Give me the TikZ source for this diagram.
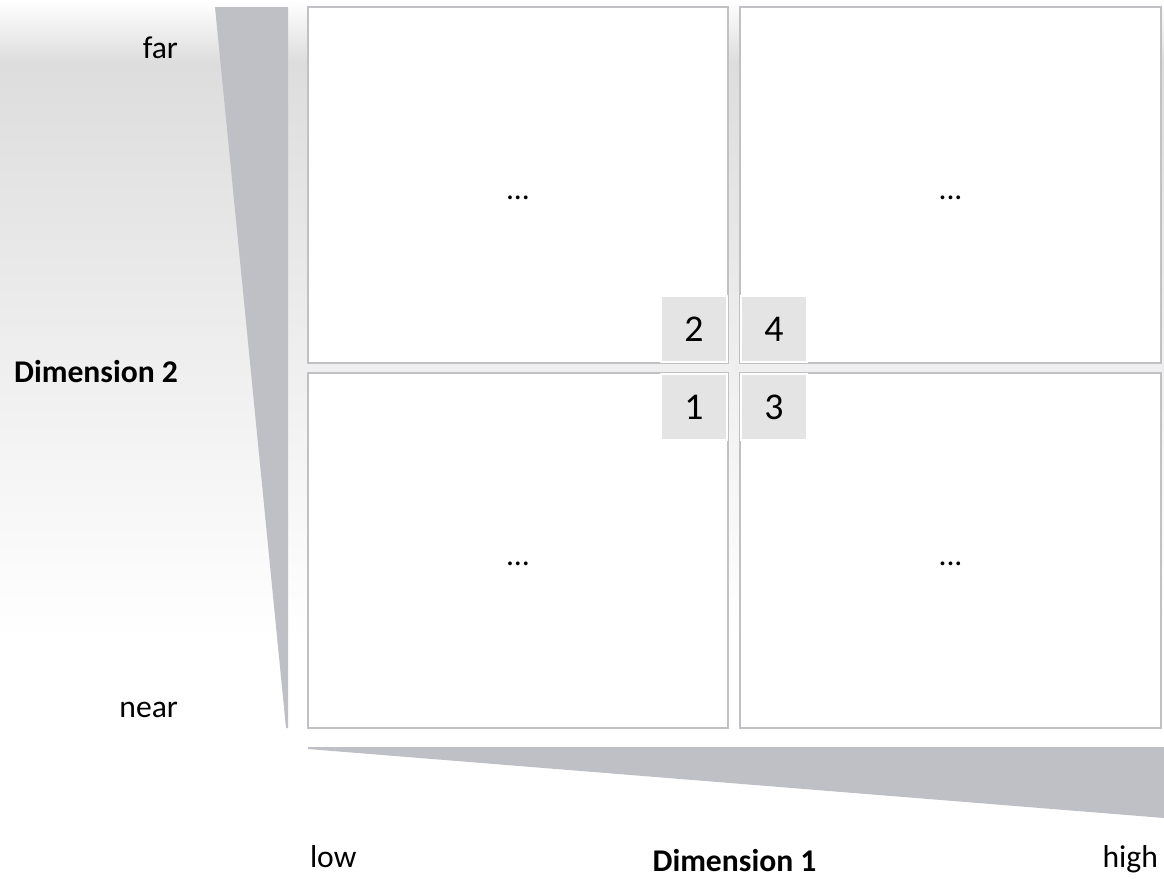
\documentclass[tikz,border=0pt]{standalone}
\usepackage{fontspec}
\setmainfont{Carlito}
\usetikzlibrary{positioning}

\definecolor{wedgegray}{HTML}{BFC0C5}
\definecolor{framegray}{HTML}{C0C0C5}
\definecolor{cellgray}{HTML}{E4E4E4}
\definecolor{fadegray}{HTML}{DDDDDD}

\begin{document}
\begin{tikzpicture}[
  x=0.02cm, y=-0.02cm,
  every node/.style={font=\fontsize{18}{21}\selectfont, inner sep=0pt, outer sep=0pt},
  quad/.style={draw=framegray, fill=white, line width=0.04cm, minimum width=8.41cm, minimum height=7.12cm},
  cell/.style={draw=white, fill=cellgray, line width=0.03cm, minimum size=1.32cm,
               font=\fontsize{21.5}{24}\selectfont},
  lbl/.style={anchor=base east},
  wedge/.style={fill=wedgegray}
]
\useasboundingbox (0,0) rectangle (1164,879);

% ---------- Background fade ----------
\shade[top color=white, bottom color=fadegray] (0,0) rectangle (1164,62);
\shade[top color=fadegray, bottom color=white] (0,62) rectangle (1164,640);

% ---------- Axis wedges ----------
\fill[wedge] (215,7) -- (288,7) -- (288,728) -- (286,728) -- cycle;     % vertical
\fill[wedge] (308,747) -- (1164,747) -- (1164,818) -- (308,749) -- cycle; % horizontal

% ---------- Quadrants ----------
\node[quad] (qTL) at (518,185) {};
\node[quad] (qTR) at (950.5,185) {};
\node[quad] (qBL) at (518,550.5) {};
\node[quad] (qBR) at (950.5,550.5) {};

\node[anchor=base] (dTL) at (518,199) {...};
\node[anchor=base] (dTR) at (950.5,199) {...};
\node[anchor=base] (dBL) at (518,565) {...};
\node[anchor=base] (dBR) at (950.5,565) {...};

% ---------- Centre cells ----------
\node[cell] (c2) at (694,329) {2};
\node[cell, right=0.28cm of c2] (c4) {4};
\node[cell, below=0.24cm of c2] (c1) {1};
\node[cell, right=0.28cm of c1] (c3) {3};

% ---------- Axis labels ----------
\node[lbl] (far) at (178,58) {far};
\node[lbl] (dim2) at (178,382) {\textbf{Dimension 2}};
\node[lbl] (near) at (178,717) {near};
\node[anchor=base west] (low) at (310,867) {low};
\node[anchor=base] (dim1) at (734.5,871) {\textbf{Dimension 1}};
\node[lbl] (high) at (1158,867) {high};

\end{tikzpicture}
\end{document}
